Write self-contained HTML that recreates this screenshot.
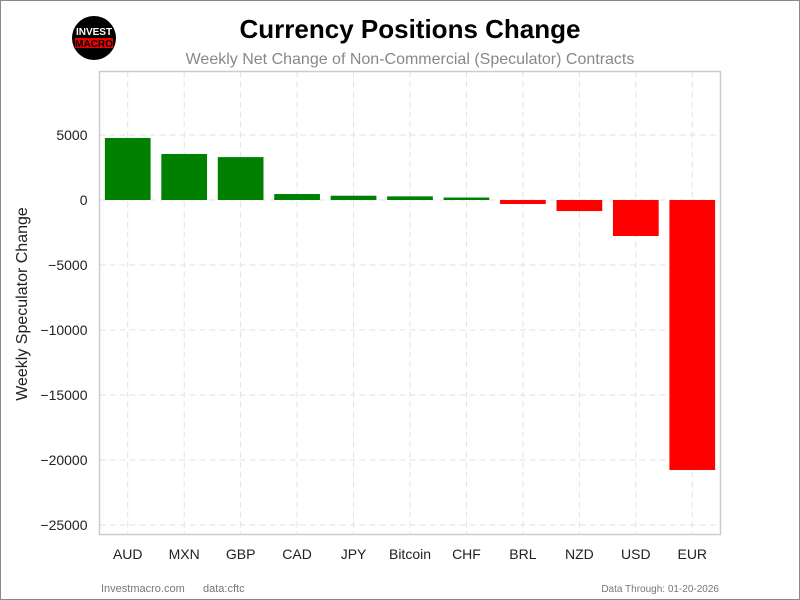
<!DOCTYPE html>
<html><head><meta charset="utf-8"><style>
body{margin:0;background:#fff;}
#wrap{position:relative;width:798px;height:598px;border:1px solid #888;overflow:hidden;font-family:"Liberation Sans",sans-serif;}
</style></head><body>
<div id="wrap">
<svg id="svg" width="798" height="598" xmlns="http://www.w3.org/2000/svg">
<g>
<circle cx="93" cy="37" r="22" fill="#000"/>
<text x="93" y="34" font-size="10" font-weight="bold" fill="#fff" text-anchor="middle" font-family="Liberation Sans">INVEST</text>
<rect x="74" y="37" width="38" height="10" fill="#e00"/>
<text x="93" y="46" font-size="10" font-weight="bold" fill="#000" text-anchor="middle" font-family="Liberation Sans">MACRO</text>
</g>
<text x="409" y="37" font-size="26" font-weight="bold" text-anchor="middle">Currency Positions Change</text>
<text x="409" y="63" font-size="16" fill="#888" text-anchor="middle">Weekly Net Change of Non-Commercial (Speculator) Contracts</text>
<g id="grid"></g><g id="bars"></g><g id="axes"></g>
<rect x="98.5" y="70.5" width="621" height="463" fill="none" stroke="#ccc" stroke-width="1.5"/>
<text transform="translate(26,303) rotate(-90)" font-size="16" fill="#222" text-anchor="middle">Weekly Speculator Change</text>
<text x="100" y="591" font-size="11" fill="#777">Investmacro.com</text>
<text x="202" y="591" font-size="11" fill="#777">data:cftc</text>
<text x="718" y="591" font-size="10" fill="#777" text-anchor="end">Data Through: 01-20-2026</text>
</svg>
</div>
<script>
const categories=["AUD","MXN","GBP","CAD","JPY","Bitcoin","CHF","BRL","NZD","USD","EUR"];
const values=[4770,3540,3300,460,330,280,190,-310,-850,-2770,-20770];
const yTicks=[5000,0,-5000,-10000,-15000,-20000,-25000];
const yTickLabels=["5000","0","\u22125000","\u221210000","\u221215000","\u221220000","\u221225000"];
const NS="http://www.w3.org/2000/svg";
const L=98.5,R=719.5,T=70.5,B=533.5;
function y(v){return 199-v*0.013;}
const band=(R-L)/categories.length;
function x(i){return L+band*(i+0.5);}
const grid=document.getElementById('grid'),bars=document.getElementById('bars'),axes=document.getElementById('axes');
function mk(tag,attrs,parent){const e=document.createElementNS(NS,tag);for(const k in attrs)e.setAttribute(k,attrs[k]);parent.appendChild(e);return e;}
yTicks.forEach((t,i)=>{
 const g=mk('line',{x1:L,x2:R,y1:y(t),y2:y(t),stroke:'#e2e2e2','stroke-dasharray':'6,4','stroke-width':1},grid);
 
 
 const tx=mk('text',{x:L-12,y:y(t)+5,'font-size':14,'text-anchor':'end',fill:'#222'},axes);
 tx.textContent=yTickLabels[i];
 
 
});
categories.forEach((c,i)=>{
 const gl=mk('line',{x1:x(i),x2:x(i),y1:T,y2:B,stroke:'#e2e2e2','stroke-dasharray':'6,4','stroke-width':1},grid);
 
 
 const v=values[i],w=band*0.81;
 const r=mk('rect',{x:x(i)-w/2,y:Math.min(y(v),y(0)),width:w,height:Math.abs(y(v)-y(0)),fill:v>=0?'#008000':'#ff0000'},bars);
 
 
 const tx=mk('text',{x:x(i),y:558,'font-size':14,'text-anchor':'middle',fill:'#222'},axes);
 tx.textContent=c;
 
 
});
</script>
</body></html>
